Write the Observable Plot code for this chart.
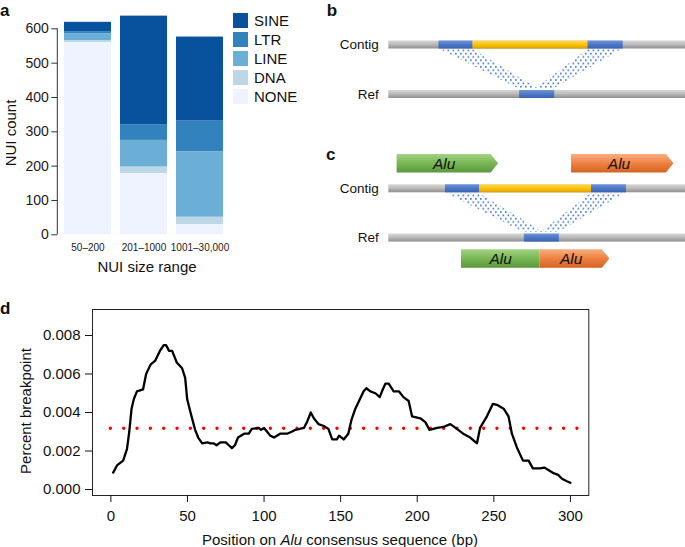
<!DOCTYPE html>
<html><head><meta charset="utf-8">
<script src="https://cdn.jsdelivr.net/npm/d3@7"></script>
<script src="https://cdn.jsdelivr.net/npm/@observablehq/plot@0.6"></script>
<style>
body{margin:0;background:#fff}
#page{position:relative;width:685px;height:547px;overflow:hidden;background:#fff;font-family:"Liberation Sans",Arial,Helvetica,sans-serif;color:#111}
.abs{position:absolute;line-height:1;white-space:nowrap}
.wrap{position:absolute}
.wrap svg{display:block;overflow:visible}
</style></head><body>
<svg width="0" height="0" style="position:absolute">
  <defs>
    <linearGradient id="g-gray" x1="0" y1="0" x2="0" y2="1">
      <stop offset="0" stop-color="#d6d6d6"/><stop offset="0.45" stop-color="#bdbdbd"/><stop offset="1" stop-color="#8e8e8e"/>
    </linearGradient>
    <linearGradient id="g-blue" x1="0" y1="0" x2="0" y2="1">
      <stop offset="0" stop-color="#6f94d8"/><stop offset="0.5" stop-color="#4d77c6"/><stop offset="1" stop-color="#3a62b0"/>
    </linearGradient>
    <linearGradient id="g-yellow" x1="0" y1="0" x2="0" y2="1">
      <stop offset="0" stop-color="#ffd95c"/><stop offset="0.5" stop-color="#ffc20a"/><stop offset="1" stop-color="#d9a100"/>
    </linearGradient>
    <linearGradient id="g-green" x1="0" y1="0" x2="0" y2="1">
      <stop offset="0" stop-color="#a2d383"/><stop offset="0.5" stop-color="#79b655"/><stop offset="1" stop-color="#5a983a"/>
    </linearGradient>
    <linearGradient id="g-orange" x1="0" y1="0" x2="0" y2="1">
      <stop offset="0" stop-color="#f7ae80"/><stop offset="0.5" stop-color="#ee8140"/><stop offset="1" stop-color="#d3631f"/>
    </linearGradient>
    <pattern id="dots" patternUnits="userSpaceOnUse" width="5" height="6.6">
      <rect x="0" y="0" width="1.7" height="1.7" fill="#4a7fd6"/>
      <rect x="2.5" y="3.3" width="1.7" height="1.7" fill="#4a7fd6"/>
    </pattern>
  </defs>
</svg>
<div id="page"></div>
<script>
// ---------------- Panel a: NUI counts by size range ----------------
const sizeRanges = ["50–200", "201–1000", "1001–30,000"];
const repeatClasses = ["SINE", "LTR", "LINE", "DNA", "NONE"];
const stackOrder = ["NONE", "DNA", "LINE", "LTR", "SINE"];
const sineCounts = [27, 316, 245];
const ltrCounts = [6, 46, 90];
const lineCounts = [20, 78, 190];
const dnaCounts = [6, 19, 21];
const noneCounts = [560, 178, 30];
const countTicks = [0, 100, 200, 300, 400, 500, 600];
const classColors = ["#08519c", "#3182bd", "#6baed6", "#bdd7e7", "#eff3ff"];

// ---------------- Panel d: breakpoint profile ----------------
const aluPosition = [1.5,4,8,10.5,12,13.5,15,17,21,23,26,29,32,34.5,36,38,40,43,46.5,48.5,49.8,52,55,57,59.6,63,65,67,69,71.5,75,77,79,81,83,87,90,92,96.5,98,100,102,104,106.5,110.5,115,118,120.5,126,128,130.5,132.5,135.5,139,142,144.5,147.5,149,152,155,157,159.6,162,165,166.8,169.4,172.7,175.5,177,179.2,181.4,184.6,188,191,194.4,196.6,202,205.3,208,213,217,221.6,225,230,234.6,239,241,245.5,249.4,252,256.4,259.6,261.8,265,269,272.7,275.5,280,283,289,292,294.5,297.7,300];
const breakpointPct = [0.00088,0.00125,0.0015,0.0021,0.0030,0.0042,0.0047,0.0051,0.0052,0.0060,0.0065,0.0067,0.0072,0.0075,0.0075,0.0072,0.0072,0.0066,0.0063,0.0058,0.0047,0.0040,0.0031,0.0027,0.0024,0.00245,0.0024,0.0024,0.0023,0.00245,0.00245,0.0023,0.00215,0.0023,0.0027,0.0029,0.0029,0.00315,0.0032,0.0031,0.0032,0.0030,0.0028,0.0027,0.0029,0.0029,0.0030,0.0031,0.0032,0.0035,0.0040,0.0037,0.0034,0.0033,0.00315,0.0026,0.0026,0.0028,0.0026,0.0029,0.0036,0.0042,0.0046,0.0051,0.00526,0.0051,0.0050,0.0048,0.0051,0.0055,0.0055,0.0051,0.0051,0.0048,0.0046,0.0038,0.0037,0.0035,0.0031,0.0032,0.00325,0.0034,0.0032,0.0029,0.0027,0.0024,0.0032,0.0038,0.00445,0.0044,0.0042,0.0038,0.0029,0.0022,0.0015,0.0015,0.0011,0.0011,0.00114,0.00085,0.00076,0.00056,0.00043,0.00035];
const positionTicks = [0, 50, 100, 150, 200, 250, 300];
const breakpointTicks = [0, 0.002, 0.004, 0.006, 0.008];
const meanBreakpoint = [0.00318];
const meanSpan = [0, 305];

// ---------------- Panels b/c: schematic ----------------
const diagramRows = [
  {id: "bContig", label: "Contig", pos: 0},
  {id: "bRef", label: "Ref", pos: 1},
  {id: "cAluTop", label: "", pos: 2.4},
  {id: "cContig", label: "Contig", pos: 2.905},
  {id: "cRef", label: "Ref", pos: 3.9},
  {id: "cAluBottom", label: "", pos: 4.323}
];
const segments = [
  {row: "bContig", start: 0, end: 100, kind: "gray"},
  {row: "bContig", start: 16.9, end: 28.4, kind: "blue"},
  {row: "bContig", start: 28.4, end: 67.1, kind: "yellow"},
  {row: "bContig", start: 67.1, end: 79.0, kind: "blue"},
  {row: "bRef", start: 0, end: 100, kind: "gray"},
  {row: "bRef", start: 44.1, end: 55.9, kind: "blue"},
  {row: "cContig", start: 0, end: 100, kind: "gray"},
  {row: "cContig", start: 19.1, end: 30.6, kind: "blue"},
  {row: "cContig", start: 30.6, end: 68.3, kind: "yellow"},
  {row: "cContig", start: 68.3, end: 80.1, kind: "blue"},
  {row: "cRef", start: 0, end: 100, kind: "gray"},
  {row: "cRef", start: 45.7, end: 57.5, kind: "blue"}
];
const alignmentLinks = [
  {from: "bContig", to: "bRef", topStart: 17.5, topEnd: 28.4, bottomStart: 43.6, bottomEnd: 50.3},
  {from: "bContig", to: "bRef", topStart: 67.1, topEnd: 78.4, bottomStart: 49.7, bottomEnd: 55.9},
  {from: "cContig", to: "cRef", topStart: 19.6, topEnd: 30.6, bottomStart: 45.2, bottomEnd: 51.9},
  {from: "cContig", to: "cRef", topStart: 68.3, topEnd: 79.5, bottomStart: 51.3, bottomEnd: 57.5}
];
const aluArrows = [
  {row: "cAluTop", start: 2.8, end: 37.0, family: "green", name: "Alu", tip: true},
  {row: "cAluTop", start: 61.6, end: 96.1, family: "orange", name: "Alu", tip: true},
  {row: "cAluBottom", start: 24.5, end: 50.9, family: "green", name: "Alu", tip: false},
  {row: "cAluBottom", start: 50.9, end: 74.5, family: "orange", name: "Alu", tip: true}
];

// ================= rendering =================
const FONT = '"Liberation Sans", Arial, Helvetica, sans-serif';
const page = document.getElementById("page");

function place(node, left, top, width) {
  const d = document.createElement("div");
  d.className = "wrap";
  d.style.left = left + "px"; d.style.top = top + "px"; d.style.width = width + "px";
  d.appendChild(node);
  page.appendChild(d);
  return d;
}
function textAt(html, x, baseline, size, opts = {}) {
  const d = document.createElement("div");
  d.className = "abs";
  d.innerHTML = html;
  d.style.fontSize = size + "px";
  if (opts.bold) d.style.fontWeight = "bold";
  d.style.top = (baseline - 0.8465 * size) + "px";
  d.style.left = x + "px";
  if (opts.center) d.style.transform = "translateX(-50%)";
  page.appendChild(d);
  return d;
}
function rotatedAt(html, cx, cy, size) {
  const d = document.createElement("div");
  d.className = "abs";
  d.innerHTML = html;
  d.style.fontSize = size + "px";
  d.style.left = cx + "px"; d.style.top = cy + "px";
  d.style.transform = "translate(-50%,-50%) rotate(-90deg)";
  page.appendChild(d);
  return d;
}

// ---- Panel a
const countsByClass = {SINE: sineCounts, LTR: ltrCounts, LINE: lineCounts, DNA: dnaCounts, NONE: noneCounts};
const barData = sizeRanges.flatMap((r, i) => repeatClasses.map(c => ({range: r, cls: c, count: countsByClass[c][i]})));
const chartA = Plot.plot({
  width: 232, height: 280,
  marginLeft: 57.3, marginRight: 2.7, marginTop: 14.6, marginBottom: 45.7,
  style: {fontFamily: FONT, fontSize: "14px", color: "#1a1a1a", background: "transparent", overflow: "visible"},
  x: {domain: sizeRanges, paddingInner: 0.165, paddingOuter: 0.1063, align: 0.5},
  y: {domain: [0, 640]},
  color: {domain: repeatClasses, range: classColors},
  marks: [
    Plot.barY(barData, {x: "range", y: "count", fill: "cls", z: "cls", order: stackOrder}),
    Plot.axisY({ticks: countTicks, tickSize: 6, tickPadding: 3, label: null, stroke: "#333"}),
    Plot.axisX({tickSize: 0, tickPadding: 9, fontSize: 10, label: null})
  ]
});
{
  const ys = chartA.scale("y");
  d3.select(chartA).append("line")
    .attr("x1", 57.3).attr("x2", 57.3)
    .attr("y1", ys.apply(0)).attr("y2", ys.apply(600))
    .attr("stroke", "#333").attr("stroke-width", 1);
}
place(chartA, 0, 0, 232);
rotatedAt("NUI count", 9.8, 133, 15);
textAt("NUI size range", 147, 272, 15, {center: true});
repeatClasses.forEach((c, i) => {
  const sw = document.createElement("div");
  sw.className = "abs";
  sw.style.left = "233.3px"; sw.style.top = (12.7 + i * 19) + "px";
  sw.style.width = "15px"; sw.style.height = "15px";
  sw.style.background = classColors[i];
  page.appendChild(sw);
  textAt(c, 254, 12.7 + i * 19 + 13, 15);
});
textAt("a", 0, 16.7, 17, {bold: true});

// ---- Panels b/c
const rowPos = id => diagramRows.find(r => r.id === id).pos;
const ROW_PX = 49.5;
const halfBar = 4 / ROW_PX, halfArrow = 9.2 / ROW_PX, tipLen = 2.5;
const gapTop = 0.8 / ROW_PX, gapBottom = 2 / ROW_PX;
const linkPts = alignmentLinks.flatMap((l, i) => [
  {id: i, y: rowPos(l.from) + halfBar + gapTop, x1: l.topStart, x2: l.topEnd},
  {id: i, y: rowPos(l.to) - halfBar - gapBottom, x1: l.bottomStart, x2: l.bottomEnd}
]);
const arrowPts = aluArrows.flatMap((a, i) => {
  const y = rowPos(a.row), t = a.tip ? tipLen : 0;
  const pts = [{x: a.start, y1: y - halfArrow, y2: y + halfArrow}, {x: a.end - t, y1: y - halfArrow, y2: y + halfArrow}];
  if (a.tip) pts.push({x: a.end, y1: y, y2: y});
  return pts.map(p => ({...p, id: i, family: a.family}));
});
const kinds = ["gray", "blue", "yellow"];
const chartBC = Plot.plot({
  width: 355, height: 290, margin: 0,
  style: {fontFamily: FONT, color: "#111", background: "transparent", overflow: "visible"},
  x: {domain: [0, 100], range: [58.3, 355], axis: null},
  y: {domain: [0, 1], range: [44.5, 44.5 + ROW_PX], axis: null},
  marks: [
    ...kinds.map(k => Plot.rect(segments.filter(s => s.kind === k), {
      x1: "start", x2: "end",
      y1: d => rowPos(d.row) - halfBar, y2: d => rowPos(d.row) + halfBar,
      fill: `url(#g-${k})`
    })),
    Plot.areaX(linkPts, {y: "y", x1: "x1", x2: "x2", z: "id", fill: "url(#dots)"}),
    ...["green", "orange"].map(f => Plot.areaY(arrowPts.filter(p => p.family === f), {
      x: "x", y1: "y1", y2: "y2", z: "id", fill: `url(#g-${f})`
    })),
    Plot.text(aluArrows, {
      x: d => (d.start + d.end - (d.tip ? tipLen : 0)) / 2, y: d => rowPos(d.row),
      text: "name", fontStyle: "italic", fontSize: 15.5, fill: "#111"
    }),
    Plot.text(diagramRows.filter(r => r.label), {x: 0, y: "pos", text: "label", textAnchor: "end", dx: -10, fontSize: 13.5, fill: "#111"})
  ]
});
place(chartBC, 330, 0, 355);
textAt("b", 326.7, 16.7, 17, {bold: true});
textAt("c", 326, 160, 17, {bold: true});

// ---- Panel d
const curve = aluPosition.map((x, i) => ({x, y: breakpointPct[i]}));
const chartD = Plot.plot({
  width: 685, height: 252,
  marginLeft: 92, marginRight: 96.7, marginTop: 14, marginBottom: 52,
  style: {fontFamily: FONT, fontSize: "15px", color: "#111", background: "transparent", overflow: "visible"},
  x: {domain: [-12, 312]},
  y: {domain: [-0.00031, 0.00935]},
  marks: [
    Plot.frame({stroke: "#222", strokeWidth: 1}),
    Plot.axisX({ticks: positionTicks, tickSize: 7, tickPadding: 8, label: null, tickFormat: d3.format("d")}),
    Plot.axisY({ticks: breakpointTicks, tickSize: 7, tickPadding: 5, label: null, tickFormat: d3.format(".3f")}),
    Plot.ruleY(meanBreakpoint, {x1: meanSpan[0], x2: meanSpan[1], stroke: "#ff0000", strokeWidth: 3.4, strokeDasharray: "0,13.33", strokeLinecap: "round"}),
    Plot.line(curve, {x: "x", y: "y", stroke: "#000", strokeWidth: 2.3, strokeLinejoin: "round"})
  ]
});
place(chartD, 0, 295, 685);
rotatedAt("Percent breakpoint", 25, 411, 15);
textAt("Position on <i>Alu</i> consensus sequence (bp)", 340, 545, 15, {center: true});
textAt("d", 0, 314, 17, {bold: true});
</script>
</body></html>
